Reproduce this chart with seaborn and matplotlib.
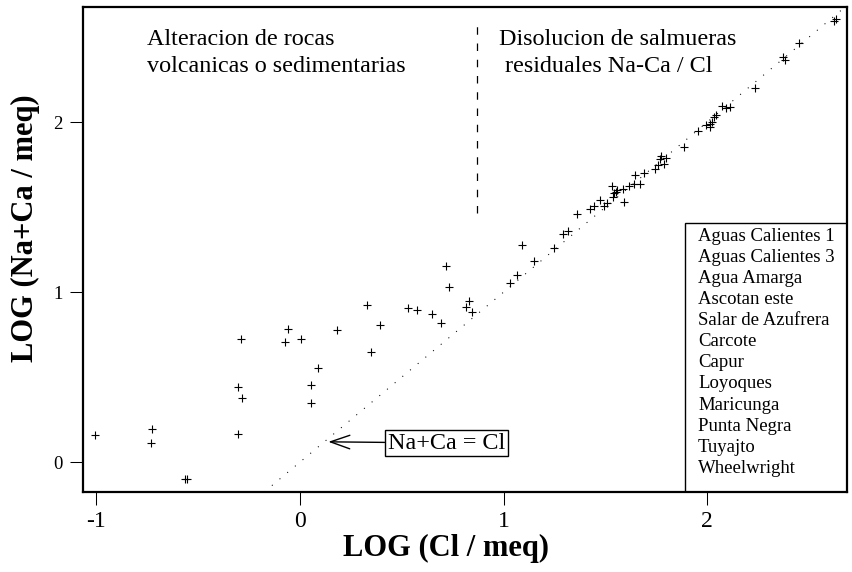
#LOG Na+Ca vs LOG Cl, aguas termales / salares
import numpy as np
import pandas as pd
import matplotlib
matplotlib.use('Agg')
import matplotlib.pyplot as plt
from matplotlib.patches import Rectangle
import seaborn as sns

#log Cl (meq) and log Na+Ca (meq)
log_cl = [-1.007, -0.726, -0.732, -0.563, -0.556, -0.303, -0.303, -0.283, -0.292,
          -0.074, -0.061, 0.003, 0.182, 0.087, 0.054, 0.054, 0.328, 0.347, 0.393,
          0.532, 0.573, 0.649, 0.693, 0.717, 0.732, 0.816, 0.832, 0.844,
          1.032, 1.065, 1.089, 1.147, 1.245, 1.289, 1.315, 1.359, 1.425, 1.445,
          1.474, 1.494, 1.507, 1.532, 1.536, 1.540, 1.553, 1.556, 1.589, 1.586,
          1.614, 1.638, 1.671, 1.646, 1.687, 1.744, 1.756, 1.769, 1.785, 1.798,
          1.774, 1.884, 1.953, 1.995, 2.015, 2.015, 2.023, 2.031, 2.044, 2.072,
          2.090, 2.113, 2.236, 2.372, 2.383, 2.449, 2.624, 2.632]
log_naca = [0.157, 0.194, 0.110, -0.102, -0.098, 0.165, 0.441, 0.378, 0.724,
            0.708, 0.784, 0.724, 0.776, 0.555, 0.455, 0.347, 0.922, 0.645, 0.808,
            0.908, 0.892, 0.869, 0.816, 1.153, 1.029, 0.910, 0.947, 0.884,
            1.055, 1.098, 1.275, 1.184, 1.259, 1.339, 1.359, 1.459, 1.488, 1.506,
            1.541, 1.506, 1.522, 1.624, 1.557, 1.580, 1.590, 1.600, 1.531, 1.608,
            1.626, 1.633, 1.633, 1.688, 1.698, 1.724, 1.747, 1.782, 1.753, 1.786,
            1.802, 1.851, 1.949, 1.982, 1.973, 1.986, 2.002, 2.031, 2.041, 2.094,
            2.080, 2.086, 2.198, 2.380, 2.365, 2.463, 2.596, 2.604]

sites = ['Aguas Calientes 1', 'Aguas Calientes 3', 'Agua Amarga', 'Ascotan este',
         'Salar de Azufrera', 'Carcote', 'Capur', 'Loyoques', 'Maricunga',
         'Punta Negra', 'Tuyajto', 'Wheelwright']

x_ticks = [-1, 0, 1, 2]
y_ticks = [0, 1, 2]
x_lim = (-1.066, 2.686)
y_lim = (-0.176, 2.675)

#1:1 line and the boundary between the two fields
line_11 = [-0.176, 2.66]
boundary_x = 0.868
boundary_y = [1.465, 2.59]

df = pd.DataFrame({'cl': log_cl, 'naca': log_naca})

#%%
sns.set_theme(style='white')
plt.rcParams['font.family'] = ['Liberation Serif', 'DejaVu Serif']
plt.rcParams['axes.unicode_minus'] = False
plt.rcParams['text.color'] = 'black'
plt.rcParams['axes.labelcolor'] = 'black'
plt.rcParams['xtick.color'] = 'black'
plt.rcParams['ytick.color'] = 'black'

fig = plt.figure(figsize=(8.52, 5.72), dpi=100)
ax = fig.add_axes([0.0974, 0.1399, 0.8967, 0.8473])

ax.plot(line_11, line_11, color='black', lw=0.75, ls=(0, (1, 8.6)))
ax.plot([boundary_x, boundary_x], boundary_y, color='black', lw=0.9, ls=(0, (6, 7)))

sns.scatterplot(data=df, x='cl', y='naca', marker='+', s=28, color='black',
                linewidth=0.8, ax=ax, legend=False)

ax.set_xlim(x_lim)
ax.set_ylim(y_lim)
ax.set_xticks(x_ticks)
ax.set_yticks(y_ticks)
ax.set_xticklabels([str(t) for t in x_ticks], fontsize=17)
ax.set_yticklabels([str(t) for t in y_ticks], fontsize=13.5)
ax.tick_params(direction='out', length=9.4, width=0.75, color='black', pad=5,
               bottom=True, left=True, labelcolor='black')
ax.tick_params(axis='x', pad=4)
for sp in ax.spines.values():
    sp.set_linewidth(1.6)
    sp.set_color('black')

ax.set_xlabel('LOG (Cl / meq)', fontsize=22, fontweight='bold', color='black')
ax.set_ylabel('LOG (Na+Ca / meq)', fontsize=22, fontweight='bold', color='black')
ax.xaxis.set_label_coords(0.475, -0.086)
ax.yaxis.set_label_coords(-0.056, 0.544)

#field labels
ax.text(-0.752, 2.453, 'Alteracion de rocas', fontsize=17.4)
ax.text(-0.752, 2.294, 'volcanicas o sedimentarias', fontsize=17.4)
ax.text(0.978, 2.453, 'Disolucion de salmueras', fontsize=17.4)
ax.text(0.978, 2.294, ' residuales Na-Ca / Cl', fontsize=17.4)

ax.annotate('Na+Ca = Cl', xy=(0.139, 0.119), xytext=(0.432, 0.112),
            fontsize=17.4, ha='left', va='center',
            bbox=dict(boxstyle='square,pad=0.12', fc='white', ec='black', lw=1),
            arrowprops=dict(arrowstyle='->,head_length=0.8,head_width=0.28',
                            color='black', lw=1, shrinkA=0, shrinkB=0))

#site list box (no symbols in the original)
box_x0 = 0.788
box_top = 0.555
ax.add_patch(Rectangle((box_x0, 0), 1 - box_x0, box_top, transform=ax.transAxes,
                       fill=False, ec='black', lw=1, zorder=5))
step = (box_top - 0.032) / len(sites)
for i, name in enumerate(sites):
    ax.text(0.805, box_top - 0.027 - i * step, name, transform=ax.transAxes,
            fontsize=13.5, va='center', ha='left', zorder=6)

fig.savefig('out.png', dpi=100)
